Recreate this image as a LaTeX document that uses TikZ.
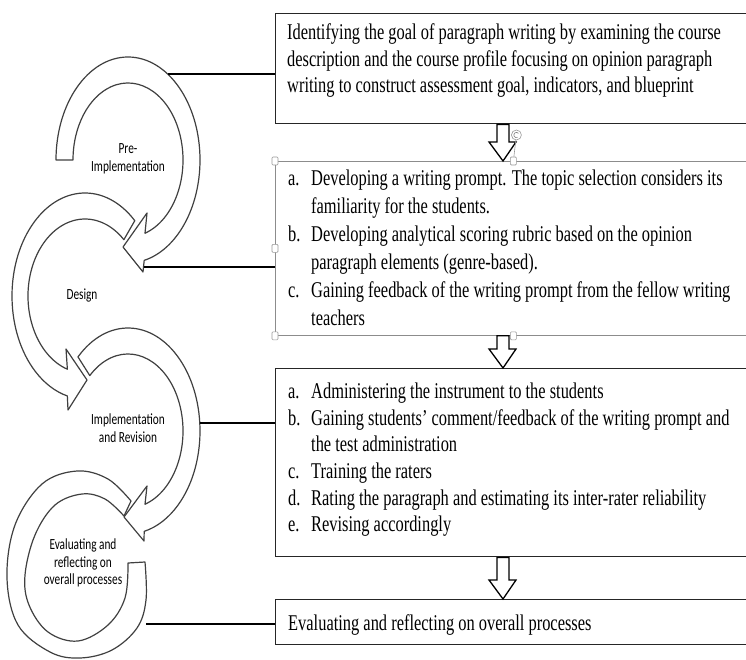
\documentclass[tikz,border=0pt]{standalone}
\usepackage{fontspec}
\setmainfont{Liberation Serif}[FakeStretch=0.73]
\newfontfamily\stagefont{Carlito}[FakeStretch=0.73]
\usetikzlibrary{positioning,calc}

% block arrow pointing down from one box to the next, on the line x = axis
\newcommand{\downblock}[2]{%
  \draw[blockarrow] ($(#1.south -| axis)+(-6,0)$) -- ($(#2.north -| axis)+(-6,-19)$)
    -- ($(#2.north -| axis)+(-14,-19)$) -- (#2.north -| axis)
    -- ($(#2.north -| axis)+(13,-19)$) -- ($(#2.north -| axis)+(6,-19)$)
    -- ($(#1.south -| axis)+(6,0)$) -- cycle;}

\begin{document}
\begin{tikzpicture}[x=1pt, y=-1pt,
  box/.style={draw=black!85, line width=1.4pt, anchor=north west, minimum width=476pt, inner sep=0pt},
  selbox/.style={box, draw=black!45, line width=0.8pt},
  boxtext/.style={anchor=north west, inner sep=0pt, font=\fontsize{22.5pt}{26.7pt}\selectfont},
  cyc/.style={draw=black!75, fill=white, line width=1.2pt, line join=round},
  stage/.style={align=center, inner sep=0pt, font=\stagefont\fontsize{15.5pt}{17.5pt}\selectfont},
  link/.style={line width=2.2pt},
  blockarrow/.style={draw=black, fill=white, line width=1.3pt, line join=miter},
  handle/.style={draw=black!40, fill=white, rounded corners=1pt, minimum width=6pt, minimum height=8pt, inner sep=0pt, line width=0.6pt},
  rothandle/.style={circle, draw=black!40, fill=white, minimum size=10pt, inner sep=0pt, line width=0.6pt}
]
\clip (0,0) rectangle (746,660);

% cycle on the left
\coordinate (c1) at (128,160);
\coordinate (c2) at (85,296);
\coordinate (c3) at (128,431);

\draw[cyc] plot[smooth, tension=0.6] coordinates {(131,501) (108,479) (77,471) (42,484) (15,525) (7,578) (18,625) (50,652) (80,658) (112,650) (137,628) (146,600) (145,562)}
  -- plot[smooth, tension=0.6] coordinates {(128,563) (125,598) (108,625) (78,641) (48,632) (29,605) (25,575) (35,535) (55,505) (82,494) (105,499) (124,516)} -- cycle;
\draw[cyc] (c3) ++(226:72 and 103) arc[start angle=226, end angle=437, x radius=72, y radius=103]
  -- (144,541) -- (124,517) -- (147,486)
  -- ($(c3)+(432:55 and 77)$) arc[start angle=432, end angle=226, x radius=55, y radius=77] -- cycle;
\draw[cyc] (c2) ++(313:73 and 103) arc[start angle=313, end angle=104, x radius=73, y radius=103]
  -- (68,410) -- (87,380) -- (66,349)
  -- ($(c2)+(108:57 and 77)$) arc[start angle=108, end angle=313, x radius=57, y radius=77] -- cycle;
\draw[cyc] (c1) ++(180:72 and 103) arc[start angle=180, end angle=437, x radius=72, y radius=103]
  -- (143,272) -- (123,247) -- (147,213)
  -- ($(c1)+(432:55 and 77)$) arc[start angle=432, end angle=180, x radius=55, y radius=77] -- cycle;

\node[stage] (s1) at (128,159) {Pre-\\Implementation};
\node[stage] (s2) at (82,295) {Design};
\node[stage] (s3) at (128,428) {Implementation\\and Revision};
\node[stage] (s4) at (83,563) {Evaluating and\\reflecting on\\overall processes};

% boxes on the right
\node[box, minimum height=110pt] (b1) at (275,13) {};
\node[selbox, minimum height=174pt] (b2) at (275,161) {};
\node[box, minimum height=188pt] (b3) at (275,368) {};
\node[box, minimum height=45pt] (b4) at (275,599) {};

\node[boxtext, below right=7.6pt and 12pt of b1.north west] (t1) {\begin{tabular}{@{}l@{}}
Identifying the goal of paragraph writing by examining the course\\
description and the course profile focusing on opinion paragraph\\
writing to construct assessment goal, indicators, and blueprint
\end{tabular}};
\node[boxtext, font=\fontsize{22.5pt}{28pt}\selectfont, below right=4.4pt and 13pt of b2.north west] (t2) {\begin{tabular}{@{}p{23pt}@{}l@{}}
a. & Developing a writing prompt. The topic selection considers its\\
   & familiarity for the students.\\
b. & Developing analytical scoring rubric based on the opinion\\
   & paragraph elements (genre-based).\\
c. & Gaining feedback of the writing prompt from the fellow writing\\
   & teachers
\end{tabular}};
\node[boxtext, below right=11.6pt and 13pt of b3.north west] (t3) {\begin{tabular}{@{}p{23pt}@{}l@{}}
a. & Administering the instrument to the students\\
b. & Gaining students’ comment/feedback of the writing prompt and\\
   & the test administration\\
c. & Training the raters\\
d. & Rating the paragraph and estimating its inter-rater reliability\\
e. & Revising accordingly
\end{tabular}};
\node[boxtext, below right=12.3pt and 13pt of b4.north west] (t4) {\begin{tabular}{@{}l@{}}
Evaluating and reflecting on overall processes
\end{tabular}};

% links from the cycle to the boxes
\coordinate (e1) at (168,74);
\coordinate (e2) at (144,267);
\coordinate (e3) at (200,423);
\coordinate (e4) at (146,624);
\draw[link] (e1) -- (e1 -| b1.west);
\draw[link] (e2) -- (e2 -| b2.west);
\draw[link] (e3) -- (e3 -| b3.west);
\draw[link] (e4) -- (e4 -| b4.west);

% arrows between the boxes
\coordinate (axis) at (503,0);
\downblock{b1}{b2}
\downblock{b2}{b3}
\downblock{b3}{b4}

% selection handles of the second box
\foreach \a [count=\i] in {north west, north, west, south west, south}
  \node[handle] (h\i) at (b2.\a) {};
\node[rothandle] (rot) at ([shift={(3,-26)}]h2.center) {};
\draw[black!40, line width=0.6pt] (rot) -- (h2);
\draw[black!50, line width=0.6pt] (rot.center) ++(60:2.6) arc[start angle=60, end angle=320, radius=2.6];
\end{tikzpicture}
\end{document}
